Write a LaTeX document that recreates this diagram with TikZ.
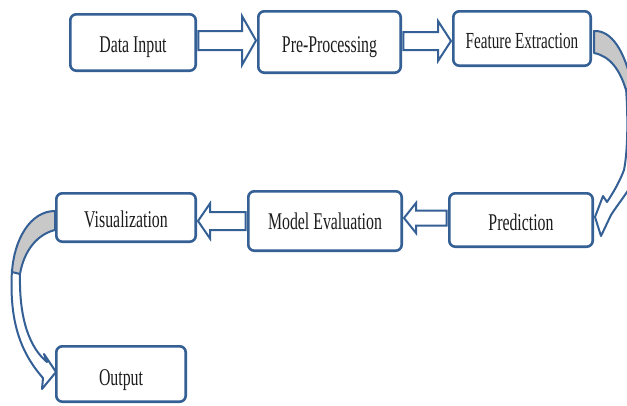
\documentclass[tikz,border=0pt]{standalone}
\usepackage{fontspec}
\newfontfamily\boxfont{Liberation Serif}[FakeStretch=0.66]
\usetikzlibrary{calc}
\definecolor{boxblue}{RGB}{52,96,150}
\definecolor{bandgray}{RGB}{200,200,200}
\definecolor{labelgray}{RGB}{28,28,28}

% horizontal block arrow: #1 tail point, #2 tip (x only), #3 shaft half width,
% #4 head half width, #5 signed head length (negative points left)
\newcommand\hblockarrow[5]{%
  \draw[blockarrow] let \p1=(#1), \p2=(#2), \n1={\x2-(#5)} in
    ({\x1},{\y1+#3}) -- ({\n1},{\y1+#3}) -- ({\n1},{\y1+#4}) -- ({\x2},{\y1})
    -- ({\n1},{\y1-#4}) -- ({\n1},{\y1-#3}) -- ({\x1},{\y1-#3}) -- cycle;}

\begin{document}
\begin{tikzpicture}[x=1pt,y=-1pt,
  stage/.style={draw=boxblue, line width=2.6pt, rounded corners=6pt, fill=white,
    text=labelgray, font=\boxfont\fontsize{24}{26}\selectfont, inner sep=0pt,
    text height=20pt, text depth=0pt},
  blockarrow/.style={draw=boxblue, line width=2pt, fill=white, line join=miter},
  ribbon/.style={draw=boxblue, line width=2pt, line join=round},
]
\useasboundingbox (0,0) rectangle (627,405);
\fill[white] (0,0) rectangle (627,405);
\clip (0,0) rectangle (627,405);

% process stages
\node[stage, minimum width=125.4pt, minimum height=56.4pt] (din)   at (133,42.5)  {Data Input};
\node[stage, minimum width=142.4pt, minimum height=61.4pt] (pre)   at (329.5,42)  {Pre-Processing};
\node[stage, minimum width=137.4pt, minimum height=54.4pt,
      font=\boxfont\fontsize{23}{25}\selectfont]          (feat)  at (522,38.5)  {Feature Extraction};
\node[stage, minimum width=143.4pt, minimum height=53.4pt] (pred)  at (521,220)   {Prediction};
\node[stage, minimum width=153.4pt, minimum height=59.4pt,
      text height=17pt]                                   (meval) at (325,221)   {Model Evaluation};
\node[stage, minimum width=139.4pt, minimum height=48.4pt] (vis)   at (126,217.5) {Visualization};
\node[stage, minimum width=129.4pt, minimum height=55.4pt,
      text height=23pt]                                   (outp)  at (121,374)   {Output};

% straight block arrows between neighbouring stages
\hblockarrow{[shift={(1.3pt,2pt)}]din.east}{[xshift=-1pt]pre.west}{9.5}{24.5}{14}
\hblockarrow{[shift={(1.3pt,1pt)}]pre.east}{[xshift=-1pt]feat.west}{9}{20}{13}
\hblockarrow{[shift={(-1.3pt,2pt)}]pred.west}{[xshift=1pt]meval.east}{7.5}{15}{-12}
\hblockarrow{[shift={(-1.3pt,0pt)}]meval.west}{[xshift=1pt]vis.east}{9}{17.5}{-12}

% curved ribbon arrow: Feature Extraction -> Prediction
\draw[ribbon, fill=white] (626,88) .. controls (628,115) and (628,150) .. (624,170)
  .. controls (619,183) and (613,193) .. (607,202) -- (603,196) -- (595,217)
  -- (601,236) -- (611,215) .. controls (620,201) and (630,190) .. (640,170)
  -- (640,88) -- cycle;
\draw[ribbon, fill=bandgray] (594,31) .. controls (612,30) and (625,52) .. (632,85)
  -- (626,90) .. controls (620,70) and (610,56) .. (594,53) -- cycle;

% curved ribbon arrow: Visualization -> Output
\draw[ribbon, fill=white] (12,270) .. controls (9,320) and (20,352) .. (43,378)
  -- (42,389) -- (56,372) -- (44,354) -- (47,362)
  .. controls (30,348) and (19,320) .. (20,274) -- cycle;
\draw[ribbon, fill=bandgray] (55,211) .. controls (30,211) and (14,240) .. (12,272)
  -- (20,274) .. controls (24,250) and (38,234) .. (55,230) -- cycle;
\end{tikzpicture}
\end{document}
